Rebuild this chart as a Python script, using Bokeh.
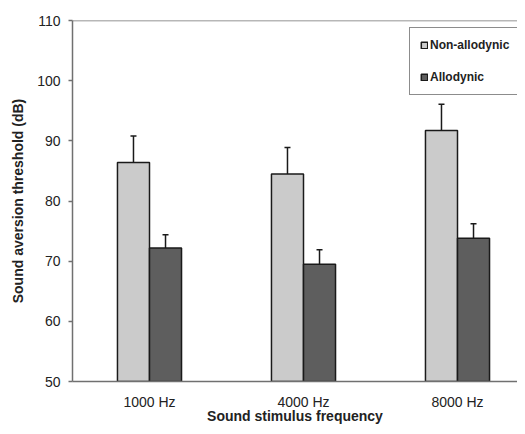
from bokeh.plotting import figure
from bokeh.models import Range1d, FixedTicker, Legend, LegendItem, Whisker, ColumnDataSource, TeeHead, Span
from bokeh.embed import file_html
from bokeh.resources import INLINE

categories = ["1000 Hz", "4000 Hz", "8000 Hz"]
non_allodynic = [86.4, 84.5, 91.7]
non_allodynic_err = [4.4, 4.4, 4.4]
allodynic = [72.2, 69.5, 73.8]
allodynic_err = [2.2, 2.4, 2.4]
y_ticks = [50, 60, 70, 80, 90, 100, 110]

FONT = "Liberation Sans"
AXIS_COL = "#707070"
TEXT_COL = "#222222"

W, H = 517, 426
BL, BT, BB = 72, 20, 45
frame_w = W - BL
frame_h = H - BT - BB

centers = [i + 0.5 for i in range(len(categories))]
bw = 0.208
off = bw / 2

p = figure(width=W, height=H, output_backend="svg", toolbar_location=None,
           x_range=Range1d(0, frame_w / 154), y_range=Range1d(50, 110),
           min_border_left=BL, min_border_right=0, min_border_top=BT, min_border_bottom=BB)
p.outline_line_color = None
p.grid.grid_line_color = None
p.background_fill_color = "white"

src_a = ColumnDataSource(dict(x=[c - off for c in centers], top=non_allodynic,
                              up=[v + e for v, e in zip(non_allodynic, non_allodynic_err)]))
src_b = ColumnDataSource(dict(x=[c + off for c in centers], top=allodynic,
                              up=[v + e for v, e in zip(allodynic, allodynic_err)]))

for src in (src_a, src_b):
    w = Whisker(source=src, base="x", upper="top", lower="up", dimension="height",
                line_color="#1a1a1a", line_width=1.5,
                upper_head=None, lower_head=TeeHead(size=6, line_color="#1a1a1a", line_width=1.5))
    p.add_layout(w)

ra = p.vbar(x="x", top="top", bottom=50, width=bw, source=src_a,
            fill_color="#cbcbcb", line_color="#1a1a1a", line_width=1.5)
rb = p.vbar(x="x", top="top", bottom=50, width=bw, source=src_b,
            fill_color="#5e5e5e", line_color="#1a1a1a", line_width=1.5)

p.add_layout(Span(location=110, dimension="width", line_color=AXIS_COL, line_width=1.5))

p.xaxis.ticker = FixedTicker(ticks=centers)
p.xaxis.major_label_overrides = {c: lab for c, lab in zip(centers, categories)}
p.xaxis.major_tick_out = 0
p.xaxis.major_tick_in = 0
p.xaxis.minor_tick_line_color = None
p.xaxis.major_label_standoff = 12
p.xaxis.axis_label = "Sound stimulus frequency"
p.xaxis.axis_label_standoff = -5

p.yaxis.ticker = FixedTicker(ticks=y_ticks)
p.yaxis.major_tick_out = 4
p.yaxis.major_tick_in = 0
p.yaxis.minor_tick_line_color = None
p.yaxis.major_label_standoff = 8
p.yaxis.axis_label = "Sound aversion threshold (dB)"
p.yaxis.axis_label_standoff = 8

for ax in (p.xaxis, p.yaxis):
    ax.axis_line_color = AXIS_COL
    ax.axis_line_width = 1.5
    ax.major_tick_line_color = AXIS_COL
    ax.major_tick_line_width = 1.5
    ax.major_label_text_font = FONT
    ax.major_label_text_font_size = "14px"
    ax.major_label_text_color = TEXT_COL
    ax.axis_label_text_font = FONT
    ax.axis_label_text_font_size = "14px"
    ax.axis_label_text_font_style = "bold"
    ax.axis_label_text_color = TEXT_COL

legend = Legend(items=[LegendItem(label="Non-allodynic", renderers=[ra]),
                       LegendItem(label="Allodynic", renderers=[rb])],
                location=(337, frame_h - 8 - 67), orientation="vertical",
                label_text_font=FONT, label_text_font_size="12px", label_text_font_style="bold",
                label_text_color=TEXT_COL, glyph_width=8, glyph_height=8, label_height=14,
                label_width=100, label_standoff=2, spacing=18, padding=10, margin=0,
                border_line_color="#1a1a1a", border_line_width=1, background_fill_alpha=1)
p.add_layout(legend)

open("out.html", "w").write(file_html(p, INLINE))
